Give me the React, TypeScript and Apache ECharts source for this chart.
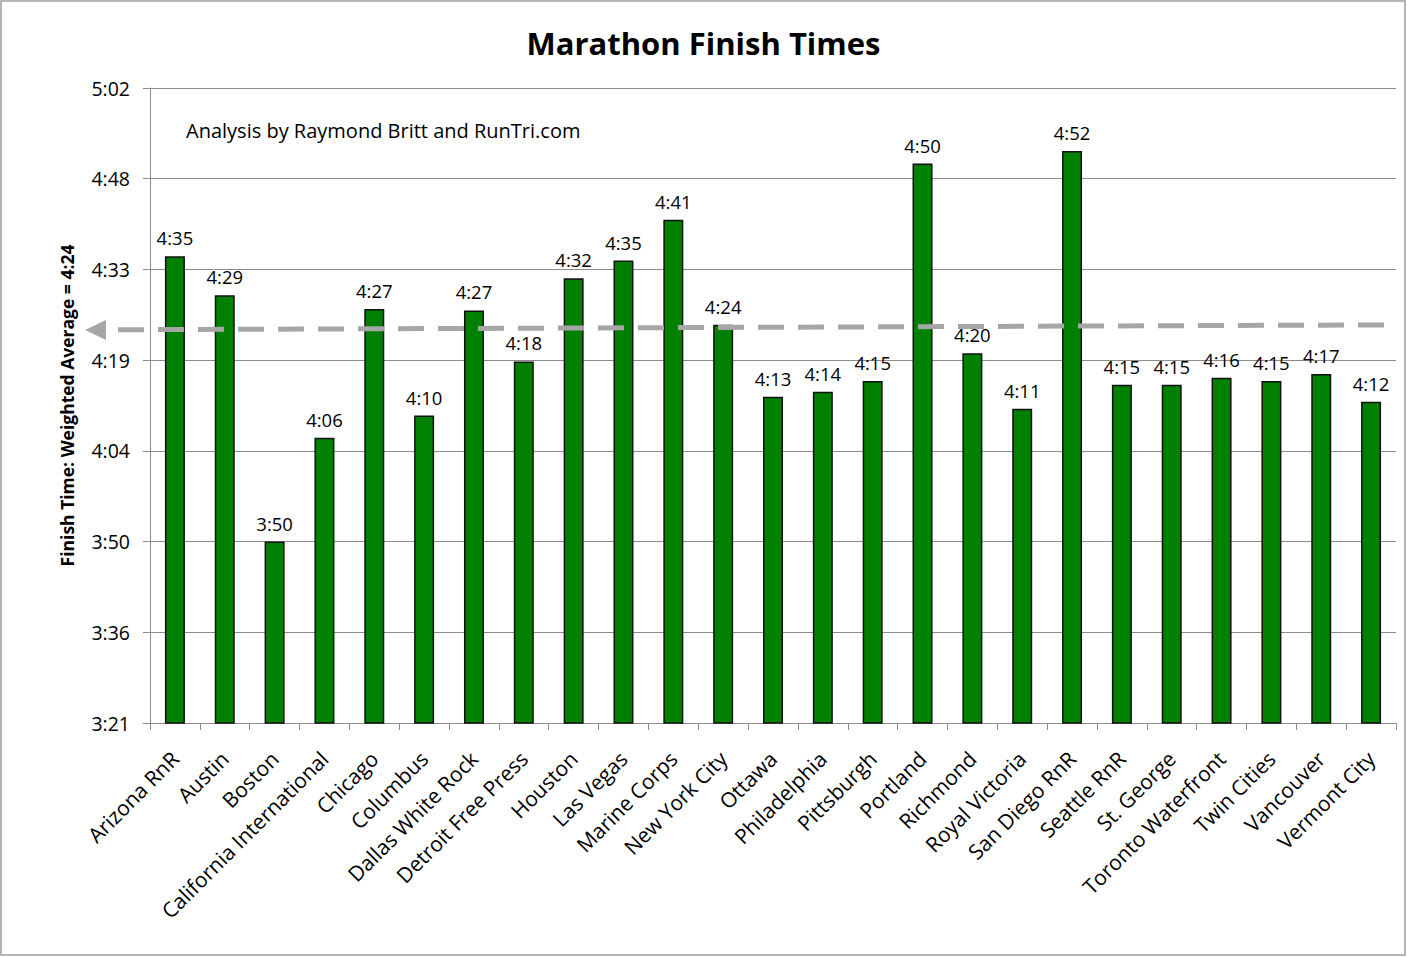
import React, { useEffect, useRef } from "react";
import * as echarts from "echarts";

const categories = [
  "Arizona RnR", "Austin", "Boston", "California International", "Chicago",
  "Columbus", "Dallas White Rock", "Detroit Free Press", "Houston", "Las Vegas",
  "Marine Corps", "New York City", "Ottawa", "Philadelphia", "Pittsburgh",
  "Portland", "Richmond", "Royal Victoria", "San Diego RnR", "Seattle RnR",
  "St. George", "Toronto Waterfront", "Twin Cities", "Vancouver", "Vermont City",
];

// finish times in minutes
const finishMinutes = [
  275.7, 269.5, 230.4, 246.9, 267.3,
  250.4, 267.1, 258.99, 272.2, 275.0,
  281.5, 264.8, 253.4, 254.2, 255.9,
  290.4, 260.3, 251.5, 292.4, 255.3,
  255.3, 256.4, 255.9, 257.0, 252.6,
];

// weighted average 4:24, drawn as a hand-placed arrow (left end, right end)
const averageLine = [264.0, 264.8];

const yMin = 201.6;
const yMax = 302.4;
const yInterval = 14.4;

const FONT = "'Open Sans', Lato, sans-serif";

function fmt(v: number): string {
  const m = Math.floor(v + 1e-6);
  const h = Math.floor(m / 60);
  const mm = m % 60;
  return h + ":" + (mm < 10 ? "0" : "") + mm;
}

export default function App() {
  const ref = useRef<HTMLDivElement>(null);
  useEffect(() => {
    document.body.style.margin = "0";
    if (!ref.current) return;
    const chart = echarts.init(ref.current, undefined, { renderer: "svg" });
    const option: any = {
      animation: false,
      backgroundColor: "#ffffff",
      title: {
        text: "Marathon Finish Times",
        left: "center",
        top: 22,
        textStyle: { fontFamily: FONT, fontSize: 31, fontWeight: "bold", color: "#000" },
      },
      grid: { left: 150, right: 11, top: 88, bottom: 234, containLabel: false },
      xAxis: {
        type: "category",
        data: categories,
        axisLine: { lineStyle: { color: "#8c8c8c", width: 1 } },
        axisTick: { show: true, length: 7, lineStyle: { color: "#8c8c8c" } },
        axisLabel: {
          interval: 0,
          rotate: 45,
          margin: 32,
          fontFamily: FONT,
          fontSize: 21,
          color: "#000",
        },
      },
      yAxis: {
        type: "value",
        min: yMin,
        max: yMax,
        interval: yInterval,
        name: "Finish Time: Weighted Average = 4:24",
        nameLocation: "middle",
        nameGap: 74,
        nameTextStyle: { fontFamily: FONT, fontSize: 17.5, fontWeight: "bold", color: "#000" },
        axisLine: { show: true, lineStyle: { color: "#8c8c8c", width: 1 } },
        axisTick: { show: true, length: 7, lineStyle: { color: "#8c8c8c" } },
        splitLine: { show: true, lineStyle: { color: "#8c8c8c", width: 1 } },
        axisLabel: {
          formatter: (v: number) => fmt(v),
          margin: 20,
          fontFamily: FONT,
          fontSize: 19.5,
          color: "#000",
        },
      },
      series: [
        {
          type: "bar",
          data: finishMinutes,
          barWidth: 20,
          itemStyle: { color: "#008000", borderColor: "#111", borderWidth: 1.5 },
          label: {
            show: true,
            position: "top",
            distance: 9,
            formatter: (p: any) => fmt(p.value),
            fontFamily: FONT,
            fontSize: 18.5,
            color: "#000",
          },
        },
      ],
    };
    chart.setOption(option);
    const yL = chart.convertToPixel({ yAxisIndex: 0 }, averageLine[0]) as number;
    const yR = chart.convertToPixel({ yAxisIndex: 0 }, averageLine[1]) as number;
    const xTip = 85;
    const xBase = 106;
    const xStart = 118;
    const xEnd = 1390;
    const slope = (yR - yL) / (xEnd - xTip);
    chart.setOption({
      graphic: [
        {
          type: "rect",
          shape: { x: 1, y: 1, width: 1404, height: 954 },
          style: { fill: "none", stroke: "#b5b5b5", lineWidth: 2 },
          silent: true,
        },
        {
          type: "text",
          x: 186,
          y: 130,
          style: {
            text: "Analysis by Raymond Britt and RunTri.com",
            fontFamily: FONT,
            fontSize: 20,
            fill: "#000",
            verticalAlign: "middle",
          },
        },
        {
          type: "line",
          shape: { x1: xStart, y1: yL + slope * (xStart - xTip), x2: xEnd, y2: yR },
          style: { stroke: "#a6a6a6", lineWidth: 5, lineDash: [26, 14] },
          z: 10,
        },
        {
          type: "polygon",
          shape: {
            points: [
              [xTip, yL],
              [xBase, yL - 10],
              [xBase, yL + 10],
            ],
          },
          style: { fill: "#a6a6a6" },
          z: 10,
        },
      ],
    });
    return () => chart.dispose();
  }, []);
  return <div ref={ref} style={{ width: 1407, height: 957 }} />;
}
